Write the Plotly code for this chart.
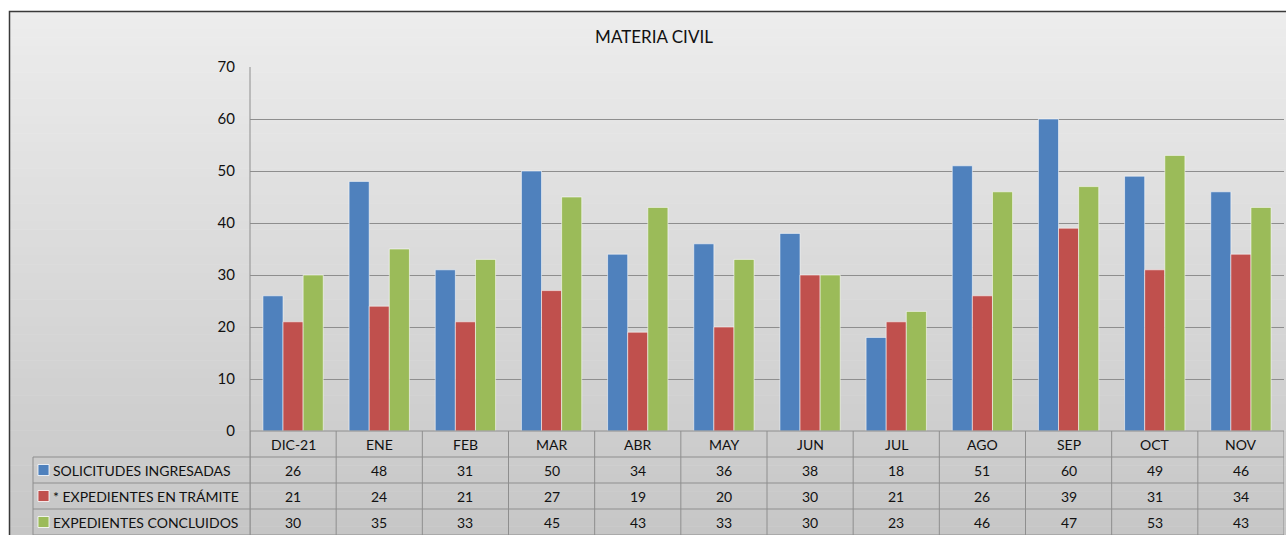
import plotly.graph_objects as go

categories = ["DIC-21", "ENE", "FEB", "MAR", "ABR", "MAY", "JUN", "JUL", "AGO", "SEP", "OCT", "NOV"]
series_names = ["SOLICITUDES INGRESADAS", "* EXPEDIENTES EN TRÁMITE", "EXPEDIENTES CONCLUIDOS"]
solicitudes = [26, 48, 31, 50, 34, 36, 38, 18, 51, 60, 49, 46]
tramite = [21, 24, 21, 27, 19, 20, 30, 21, 26, 39, 31, 34]
concluidos = [30, 35, 33, 45, 43, 33, 30, 23, 46, 47, 53, 43]
colors = ["#4f81bd", "#c0504d", "#9bbb59"]
y_ticks = [0, 10, 20, 30, 40, 50, 60, 70]
title_text = "MATERIA CIVIL"

W, H = 1286, 535
L, R, T, B = 250, 1284, 67, 431  # plot area in px
FONT = "Lato"
TXT = "#111111"


def px_x(px):
    return (px - L) / (R - L)


def px_y(py):
    return (B - py) / (B - T)


fig = go.Figure()
for name, vals, col in zip(series_names, [solicitudes, tramite, concluidos], colors):
    fig.add_trace(go.Bar(
        x=categories, y=vals, name=name,
        marker=dict(color=col, line=dict(color="rgba(255,255,255,0.55)", width=1)),
    ))

shapes = []
# background gradient bands (behind everything)
n = 60
top_c = (237, 237, 237)
bot_c = (198, 198, 198)
for i in range(n):
    y0 = 11 + (H - 11) * i / n
    y1 = 11 + (H - 11) * (i + 1) / n + 0.5
    t = (i + 0.5) / n
    c = tuple(int(round(top_c[k] + (bot_c[k] - top_c[k]) * t)) for k in range(3))
    shapes.append(dict(type="rect", xref="paper", yref="paper", layer="below",
                       x0=px_x(9), x1=px_x(W + 5), y0=px_y(y0), y1=px_y(y1),
                       fillcolor="rgb(%d,%d,%d)" % c, line=dict(width=0)))
# outer frame
shapes.append(dict(type="rect", xref="paper", yref="paper", layer="below",
                   x0=px_x(9.5), x1=px_x(W + 5), y0=px_y(11.5), y1=px_y(H + 5),
                   fillcolor="rgba(0,0,0,0)", line=dict(color="#3a3a3a", width=1.5)))

grid_col = "#8e8e8e"
# table horizontal lines
for py in [457, 483, 509, 535]:
    shapes.append(dict(type="line", xref="paper", yref="paper", x0=px_x(33), x1=px_x(R),
                       y0=px_y(py), y1=px_y(py), line=dict(color=grid_col, width=1)))
shapes.append(dict(type="line", xref="paper", yref="paper", x0=0, x1=1,
                   y0=0, y1=0, line=dict(color=grid_col, width=1)))
# table left border
shapes.append(dict(type="line", xref="paper", yref="paper", x0=px_x(33), x1=px_x(33),
                   y0=px_y(457), y1=px_y(H), line=dict(color=grid_col, width=1)))
# category separators
for i in range(len(categories) + 1):
    shapes.append(dict(type="line", xref="x", yref="paper", x0=i - 0.5, x1=i - 0.5,
                       y0=px_y(431), y1=px_y(H), line=dict(color=grid_col, width=1)))
# y axis line
shapes.append(dict(type="line", xref="paper", yref="paper", x0=0, x1=0,
                   y0=px_y(T), y1=px_y(H), line=dict(color=grid_col, width=1)))

annotations = []
row_y = [444, 470, 496, 522]
for c in categories:
    annotations.append(dict(x=c, y=px_y(row_y[0]), xref="x", yref="paper", text=c,
                            showarrow=False, font=dict(family=FONT, size=14, color=TXT),
                            xanchor="center", yanchor="middle"))
for r, (name, vals, col) in enumerate(zip(series_names, [solicitudes, tramite, concluidos], colors)):
    cy = row_y[r + 1]
    ry = px_y(cy)
    # legend key swatch
    shapes.append(dict(type="rect", xref="paper", yref="paper",
                       x0=px_x(38), x1=px_x(49), y0=px_y(cy - 5.5), y1=px_y(cy + 5.5),
                       fillcolor=col, line=dict(color="rgba(255,255,255,0.8)", width=1)))
    annotations.append(dict(x=px_x(51), y=ry, xref="paper", yref="paper",
                            text=name,
                            showarrow=False, font=dict(family=FONT, size=14, color=TXT),
                            xanchor="left", yanchor="middle"))
    for c, v in zip(categories, vals):
        annotations.append(dict(x=c, y=ry, xref="x", yref="paper", text=str(v),
                                showarrow=False, font=dict(family=FONT, size=14, color=TXT),
                                xanchor="center", yanchor="middle"))

fig.update_layout(
    width=W, height=H,
    margin=dict(l=L, r=W - R, t=T, b=H - B),
    paper_bgcolor="white", plot_bgcolor="rgba(0,0,0,0)",
    showlegend=False,
    barmode="group", bargap=0.3, bargroupgap=0.0,
    title=dict(text=title_text, xref="container", yref="container",
               x=654 / W, y=1 - 37 / H, xanchor="center", yanchor="middle",
               font=dict(family=FONT, size=17, color=TXT)),
    xaxis=dict(showticklabels=False, showgrid=False, zeroline=False, showline=False,
               range=[-0.5, len(categories) - 0.5]),
    yaxis=dict(range=[0, 70], tickvals=y_ticks, showgrid=True, gridcolor=grid_col, gridwidth=1,
               zeroline=False, showline=False, ticks="", ticklabelstandoff=14,
               tickfont=dict(family=FONT, size=15, color=TXT)),
    shapes=shapes, annotations=annotations,
    font=dict(family=FONT),
)

fig.write_html("out.html", config={"displayModeBar": False},
               post_script="document.body.style.margin='0';document.body.style.overflow='hidden';")
